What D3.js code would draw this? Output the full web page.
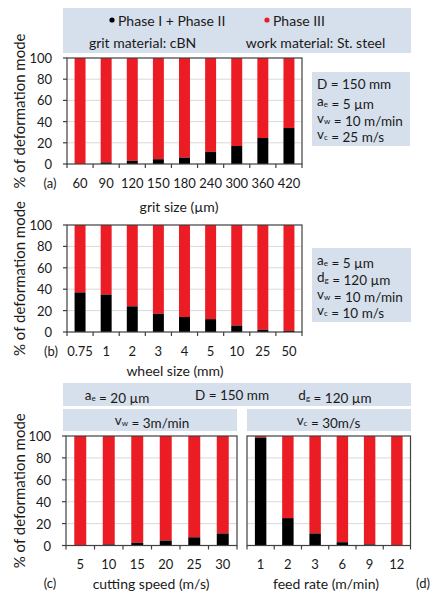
<!DOCTYPE html>
<html><head><meta charset="utf-8">
<script src="https://cdn.jsdelivr.net/npm/d3@7/dist/d3.min.js"></script>
<style>
html,body{margin:0;padding:0;background:#fff;}
svg{display:block;font-family:Lato,"Open Sans",sans-serif;}
</style></head>
<body>
<svg id="c" width="432" height="594"></svg>
<script>
// ---- data ----
const seriesNames = ["Phase I + Phase II", "Phase III"];
const yTicks = [0, 20, 40, 60, 80, 100];

const gritSizes = ["60","90","120","150","180","240","300","360","420"];
const gritPhase12 = [0, 1.5, 3, 4.5, 6, 11.5, 17, 24.5, 34];
const gritPhase3  = [100, 98.5, 97, 95.5, 94, 88.5, 83, 75.5, 66];

const wheelSizes = ["0.75","1","2","3","4","5","10","25","50"];
const wheelPhase12 = [37, 35, 24, 17, 14, 12, 6, 2, 1];
const wheelPhase3  = [63, 65, 76, 83, 86, 88, 94, 98, 99];

const cuttingSpeeds = ["5","10","15","20","25","30"];
const speedPhase12 = [0, 1, 2.5, 4.5, 7.5, 11];
const speedPhase3  = [100, 99, 97.5, 95.5, 92.5, 89];

const feedRates = ["1","2","3","6","9","12"];
const feedPhase12 = [98.5, 25, 11, 3, 1, 0];
const feedPhase3  = [1.5, 75, 89, 97, 99, 100];

const colors = {p12: "#000000", p3: "#ec1c24"};
const boxFill = "#d6dfec";
const txt = "#1a1a1a";

const svg = d3.select("#c");
const FS = 14;      // general text
const TS = 13;      // tick labels
const PS = 13.5;    // parameter text

function panel(o) {
  const g = svg.append("g");
  const x = d3.scaleBand().domain(o.cats).range([o.x0, o.x1]).padding(0);
  const y = d3.scaleLinear().domain([0, 100]).range([o.y1, o.y0]);
  g.selectAll("line.grid").data(yTicks.filter(t => t > 0 && t < 100)).join("line")
    .attr("x1", o.x0).attr("x2", o.x1)
    .attr("y1", d => y(d)).attr("y2", d => y(d))
    .attr("stroke", "#d9d9d9").attr("stroke-width", 1);
  const bw = x.bandwidth() * 0.42;
  const rows = o.cats.map((c, i) => ({c, a: o.p12[i], b: o.p3[i]}));
  g.selectAll("rect.p3").data(rows).join("rect")
    .attr("x", d => x(d.c) + (x.bandwidth() - bw) / 2)
    .attr("width", bw)
    .attr("y", d => y(d.a + d.b))
    .attr("height", d => y(d.a) - y(d.a + d.b))
    .attr("fill", colors.p3);
  g.selectAll("rect.p12").data(rows).join("rect")
    .attr("x", d => x(d.c) + (x.bandwidth() - bw) / 2)
    .attr("width", bw)
    .attr("y", d => y(d.a))
    .attr("height", d => y(0) - y(d.a))
    .attr("fill", colors.p12);
  g.append("rect").attr("x", o.x0).attr("y", o.y0)
    .attr("width", o.x1 - o.x0).attr("height", o.y1 - o.y0)
    .attr("fill", "none").attr("stroke", "#404040").attr("stroke-width", 1.2);
  const bounds = o.cats.map(c => x(c)).concat([o.x1]);
  g.selectAll("line.xt").data(bounds).join("line")
    .attr("x1", d => d).attr("x2", d => d)
    .attr("y1", o.y1).attr("y2", o.y1 + 4)
    .attr("stroke", "#404040").attr("stroke-width", 1.2);
  g.selectAll("text.xl").data(o.cats).join("text")
    .attr("x", d => x(d) + x.bandwidth() / 2)
    .attr("y", o.tickY)
    .attr("text-anchor", "middle").attr("dominant-baseline", "central")
    .attr("font-size", TS).attr("fill", txt)
    .text(d => d);
  if (o.yAxis) {
    g.selectAll("line.yt").data(yTicks).join("line")
      .attr("x1", o.x0 - 4).attr("x2", o.x0)
      .attr("y1", d => y(d)).attr("y2", d => y(d))
      .attr("stroke", "#404040").attr("stroke-width", 1.2);
    g.selectAll("text.yl").data(yTicks).join("text")
      .attr("x", o.x0 - 15).attr("y", d => y(d))
      .attr("text-anchor", "end").attr("dominant-baseline", "central")
      .attr("font-size", TS).attr("fill", txt)
      .text(d => d);
    const cy = (o.y0 + o.y1) / 2;
    g.append("text")
      .attr("transform", `translate(19,${cy}) rotate(-90)`)
      .attr("text-anchor", "middle").attr("dominant-baseline", "central")
      .attr("font-size", 15).attr("fill", txt)
      .text("% of deformation mode");
  }
  g.append("text").attr("x", o.titleX).attr("y", o.titleY)
    .attr("text-anchor", "middle").attr("dominant-baseline", "central")
    .attr("font-size", FS).attr("fill", txt).text(o.title);
  g.append("text").attr("x", o.tagX).attr("y", o.tagY)
    .attr("text-anchor", "middle").attr("dominant-baseline", "central")
    .attr("font-size", TS).attr("fill", txt).text(o.tag);
}

function richText(sel, x, y, parts, anchor, size) {
  const t = sel.append("text").attr("x", x).attr("y", y)
    .attr("text-anchor", anchor || "start").attr("dominant-baseline", "central")
    .attr("font-size", size || FS).attr("fill", txt);
  parts.forEach(p => {
    if (p.sub) {
      t.append("tspan").text(p.sub).attr("font-size", 8).attr("dy", 3);
      t.append("tspan").text("").attr("dy", -3);
    } else {
      t.append("tspan").text(p.t);
    }
  });
  return t;
}

function paramBox(x0, y0, w, h, lines) {
  svg.append("rect").attr("x", x0).attr("y", y0).attr("width", w).attr("height", h).attr("fill", boxFill);
  lines.forEach((ln, i) => richText(svg, x0 + 5, y0 + 12 + i * 16.8, ln, "start", PS));
}

// ---- header legend ----
svg.append("rect").attr("x", 63).attr("y", 8).attr("width", 348).attr("height", 45).attr("fill", boxFill);
svg.append("circle").attr("cx", 112).attr("cy", 20).attr("r", 2.6).attr("fill", colors.p12);
svg.append("text").attr("x", 118).attr("y", 20).attr("dominant-baseline", "central")
  .attr("font-size", FS).attr("fill", txt).text(seriesNames[0]);
svg.append("circle").attr("cx", 267).attr("cy", 20).attr("r", 2.6).attr("fill", colors.p3);
svg.append("text").attr("x", 273).attr("y", 20).attr("dominant-baseline", "central")
  .attr("font-size", FS).attr("fill", txt).text(seriesNames[1]);
svg.append("text").attr("x", 142.5).attr("y", 42.5).attr("text-anchor", "middle").attr("dominant-baseline", "central")
  .attr("font-size", FS).attr("fill", txt).text("grit material: cBN");
svg.append("text").attr("x", 315.5).attr("y", 42.5).attr("text-anchor", "middle").attr("dominant-baseline", "central")
  .attr("font-size", FS).attr("fill", txt).text("work material: St. steel");

// ---- panel a ----
panel({cats: gritSizes, p12: gritPhase12, p3: gritPhase3, x0: 67, x1: 302, y0: 58, y1: 164,
  tickY: 183, yAxis: true, title: "grit size (\u00b5m)", titleX: 179, titleY: 206, tag: "(a)", tagX: 50, tagY: 183});
paramBox(312, 72, 98, 74, [
  [{t: "D = 150 mm"}],
  [{t: "a"}, {sub: "e"}, {t: " = 5 \u00b5m"}],
  [{t: "v"}, {sub: "w"}, {t: " = 10 m/min"}],
  [{t: "v"}, {sub: "c"}, {t: " = 25 m/s"}]
]);

// ---- panel b ----
panel({cats: wheelSizes, p12: wheelPhase12, p3: wheelPhase3, x0: 67, x1: 302, y0: 225, y1: 332,
  tickY: 351, yAxis: true, title: "wheel size (mm)", titleX: 175, titleY: 370, tag: "(b)", tagX: 51, tagY: 351});
paramBox(312, 248, 99, 74, [
  [{t: "a"}, {sub: "e"}, {t: " = 5 \u00b5m"}],
  [{t: "d"}, {sub: "g"}, {t: " = 120 \u00b5m"}],
  [{t: "v"}, {sub: "w"}, {t: " = 10 m/min"}],
  [{t: "v"}, {sub: "c"}, {t: " = 10 m/s"}]
]);

// ---- panels c & d header ----
svg.append("rect").attr("x", 63).attr("y", 383).attr("width", 348).attr("height", 23).attr("fill", boxFill);
richText(svg, 117, 394.5, [{t: "a"}, {sub: "e"}, {t: " = 20 \u00b5m"}], "middle", PS);
richText(svg, 232, 394.5, [{t: "D = 150 mm"}], "middle", PS);
richText(svg, 335, 394.5, [{t: "d"}, {sub: "g"}, {t: " = 120 \u00b5m"}], "middle", PS);
svg.append("rect").attr("x", 63).attr("y", 409).attr("width", 174).attr("height", 22).attr("fill", boxFill);
svg.append("rect").attr("x", 247).attr("y", 409).attr("width", 164).attr("height", 22).attr("fill", boxFill);
richText(svg, 152, 420, [{t: "v"}, {sub: "w"}, {t: " = 3m/min"}], "middle", PS);
richText(svg, 328.5, 420, [{t: "v"}, {sub: "c"}, {t: " = 30m/s"}], "middle", PS);

panel({cats: cuttingSpeeds, p12: speedPhase12, p3: speedPhase3, x0: 66, x1: 237, y0: 436, y1: 545.5,
  tickY: 564, yAxis: true, title: "cutting speed (m/s)", titleX: 151, titleY: 583, tag: "(c)", tagX: 50, tagY: 583});
panel({cats: feedRates, p12: feedPhase12, p3: feedPhase3, x0: 247, x1: 410.5, y0: 436, y1: 545.5,
  tickY: 564, yAxis: false, title: "feed rate (m/min)", titleX: 326, titleY: 583, tag: "(d)", tagX: 423, tagY: 583});
</script>
</body></html>
